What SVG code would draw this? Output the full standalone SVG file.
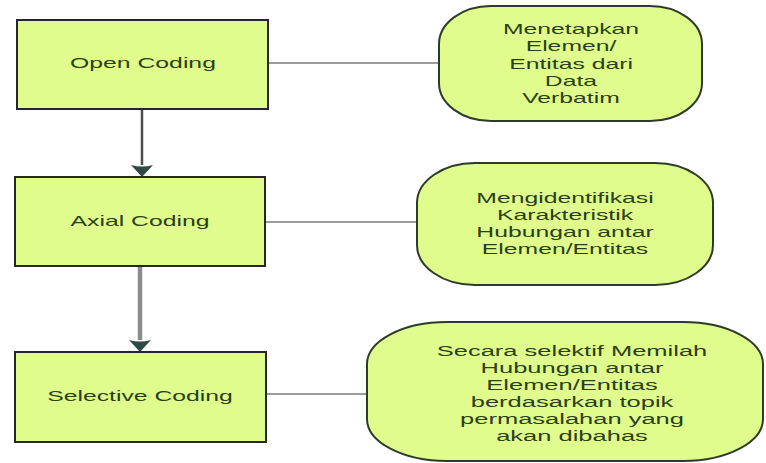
<svg xmlns="http://www.w3.org/2000/svg" width="766" height="463" viewBox="0 0 766 463">
  <style>
    .step { fill: #e0fc8c; stroke: #262626; stroke-width: 2; }
    .note { fill: #e0fc8c; stroke: #2e3a2a; stroke-width: 2; }
    .lbl { font-family: "Liberation Sans", Arial, sans-serif; font-size: 15px; fill: #2a3f14; text-anchor: middle; }
    .link { stroke: #7a7a7a; stroke-width: 1.5; fill: none; }
    .head { fill: #2f4a45; }
  </style>
  <rect width="766" height="463" fill="#ffffff"/>

  <g id="connectors">
    <line x1="142" y1="109" x2="142" y2="165" stroke="#4d4d4d" stroke-width="2.5"/>
    <path class="head" d="M131,165 Q142,168 153,165 L142,177 Z"/>
    <line x1="140" y1="266" x2="140" y2="340" stroke="#8c8c8c" stroke-width="4.5"/>
    <path class="head" d="M129,340 Q140,343 151,340 L140,352 Z"/>
    <line class="link" x1="268" y1="63" x2="439" y2="63"/>
    <line class="link" x1="265" y1="222" x2="417" y2="222"/>
    <line class="link" x1="266" y1="394" x2="367" y2="394"/>
  </g>

  <g id="open-coding">
    <rect class="step" x="17" y="20" width="251" height="89"/>
    <g transform="translate(143 0) scale(1.65 1)"><text class="lbl" x="0" y="68">Open Coding</text></g>
  </g>

  <g id="axial-coding">
    <rect class="step" x="15" y="177" width="250" height="89"/>
    <g transform="translate(140 0) scale(1.65 1)"><text class="lbl" x="0" y="226">Axial Coding</text></g>
  </g>

  <g id="selective-coding">
    <rect class="step" x="15" y="352" width="251" height="90"/>
    <g transform="translate(140 0) scale(1.65 1)"><text class="lbl" x="0" y="401">Selective Coding</text></g>
  </g>

  <g id="note-open">
    <rect class="note" x="439" y="6" width="263" height="115" rx="52" ry="38"/>
    <g transform="translate(571 0) scale(1.65 1)">
      <text class="lbl" x="0" y="34">Menetapkan</text>
      <text class="lbl" x="0" y="51">Elemen/</text>
      <text class="lbl" x="0" y="69">Entitas dari</text>
      <text class="lbl" x="0" y="86">Data</text>
      <text class="lbl" x="0" y="103">Verbatim</text>
    </g>
  </g>

  <g id="note-axial">
    <rect class="note" x="417" y="163" width="296" height="122" rx="58" ry="40"/>
    <g transform="translate(565 0) scale(1.65 1)">
      <text class="lbl" x="0" y="203">Mengidentifikasi</text>
      <text class="lbl" x="0" y="220">Karakteristik</text>
      <text class="lbl" x="0" y="237">Hubungan antar</text>
      <text class="lbl" x="0" y="254">Elemen/Entitas</text>
    </g>
  </g>

  <g id="note-selective">
    <rect class="note" x="367" y="322" width="396" height="139" rx="80" ry="42"/>
    <g transform="translate(572 0) scale(1.7 1)">
      <text class="lbl" x="0" y="356">Secara selektif Memilah</text>
      <text class="lbl" x="0" y="373">Hubungan antar</text>
      <text class="lbl" x="0" y="390">Elemen/Entitas</text>
      <text class="lbl" x="0" y="407">berdasarkan topik</text>
      <text class="lbl" x="0" y="424">permasalahan yang</text>
      <text class="lbl" x="0" y="441">akan dibahas</text>
    </g>
  </g>
</svg>
